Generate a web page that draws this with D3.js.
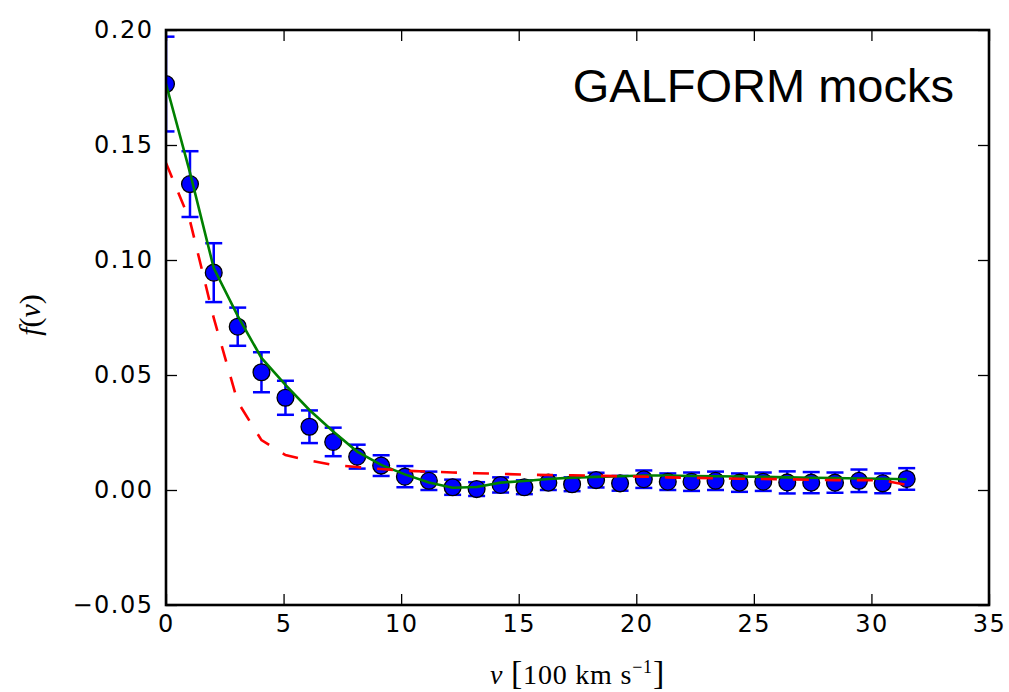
<!DOCTYPE html>
<html>
<head>
<meta charset="utf-8">
<script src="https://cdn.jsdelivr.net/npm/d3@7"></script>
<style>
  body { margin: 0; background: #fff; }
</style>
</head>
<body>
<svg width="1009" height="692"></svg>
<script>
// velocity bins, units of 100 km/s
var vBins = [0, 1.02, 2.03, 3.05, 4.06, 5.08, 6.1, 7.11, 8.13, 9.15, 10.16, 11.18,
  12.19, 13.21, 14.23, 15.24, 16.26, 17.27, 18.29, 19.31, 20.32, 21.34, 22.35,
  23.37, 24.39, 25.4, 26.42, 27.44, 28.45, 29.47, 30.48, 31.5];

// mock measurements (blue points) and their errors
var fMock = [0.1765, 0.133, 0.0945, 0.071, 0.0512, 0.0401, 0.0275, 0.0209, 0.0145,
  0.0106, 0.0058, 0.004, 0.0012, 0.0004, 0.0022, 0.0012, 0.0032, 0.0025, 0.0043,
  0.0029, 0.0047, 0.0036, 0.0036, 0.004, 0.0032, 0.0036, 0.0033, 0.0032, 0.0032,
  0.004, 0.0029, 0.0048];
var fErr = [0.0206, 0.0143, 0.0128, 0.0083, 0.0087, 0.0074, 0.0071, 0.0062, 0.0052,
  0.0045, 0.0046, 0.004, 0.0033, 0.003, 0.0033, 0.003, 0.0032, 0.003, 0.0032,
  0.0032, 0.0038, 0.0036, 0.004, 0.004, 0.004, 0.004, 0.0048, 0.0046, 0.0044,
  0.0049, 0.0043, 0.0047];

// green solid curve
var fGreen = [0.1765, 0.138, 0.0965, 0.0757, 0.0574, 0.0457, 0.0348, 0.0254, 0.0167,
  0.0109, 0.0068, 0.0033, 0.001, 0.0013, 0.0032, 0.0039, 0.0048, 0.0054, 0.0057,
  0.006, 0.0063, 0.0063, 0.0061, 0.006, 0.0059, 0.0057, 0.0055, 0.0053, 0.0052,
  0.005, 0.0049, 0.0047];

// red dashed curve
var fRed = [0.1422, 0.117, 0.0748, 0.0383, 0.0217, 0.0152, 0.0128, 0.0109, 0.01,
  0.0091, 0.0084, 0.008, 0.0076, 0.0073, 0.007, 0.0067, 0.0065, 0.0064, 0.0062,
  0.006, 0.0058, 0.0055, 0.0053, 0.0051, 0.0049, 0.0048, 0.0047, 0.0044, 0.0043,
  0.0043, 0.0042, 0.0022];

var xTicks = [0, 5, 10, 15, 20, 25, 30, 35];
var yTicks = [-0.05, 0, 0.05, 0.1, 0.15, 0.2];

var svg = d3.select("svg"),
  pLeft = 166,
  pRight = 989,
  pTop = 30,
  pBottom = 605;

var xScale = d3.scaleLinear().domain([0, 35]).range([pLeft, pRight]),
  yScale = d3.scaleLinear().domain([-0.05, 0.2]).range([pBottom, pTop]);

var pts = vBins.map(function (v, i) {
  return { v: v, f: fMock[i], e: fErr[i], g: fGreen[i], r: fRed[i] };
});

var g = svg.append("g");
svg.append("clipPath").attr("id", "plotClip")
  .append("rect")
  .attr("x", pLeft).attr("y", pTop)
  .attr("width", pRight - pLeft).attr("height", pBottom - pTop);

var plot = g.append("g").attr("clip-path", "url(#plotClip)");

// error bars
var capW = 8.5;
var eb = plot.append("g").selectAll("g")
  .data(pts)
  .enter()
  .append("g")
  .attr("stroke", "#0000ff")
  .attr("stroke-width", 2.5);
eb.append("line")
  .attr("x1", function (d) { return xScale(d.v); })
  .attr("x2", function (d) { return xScale(d.v); })
  .attr("y1", function (d) { return yScale(d.f + d.e); })
  .attr("y2", function (d) { return yScale(d.f - d.e); });
eb.append("line")
  .attr("x1", function (d) { return xScale(d.v) - capW; })
  .attr("x2", function (d) { return xScale(d.v) + capW; })
  .attr("y1", function (d) { return yScale(d.f + d.e); })
  .attr("y2", function (d) { return yScale(d.f + d.e); });
eb.append("line")
  .attr("x1", function (d) { return xScale(d.v) - capW; })
  .attr("x2", function (d) { return xScale(d.v) + capW; })
  .attr("y1", function (d) { return yScale(d.f - d.e); })
  .attr("y2", function (d) { return yScale(d.f - d.e); });

// points
plot.append("g").selectAll("circle")
  .data(pts)
  .enter()
  .append("circle")
  .attr("cx", function (d) { return xScale(d.v); })
  .attr("cy", function (d) { return yScale(d.f); })
  .attr("r", 8.4)
  .attr("fill", "#0000ff")
  .attr("stroke", "#000")
  .attr("stroke-width", 1.3);

// green line
plot.append("path")
  .datum(pts)
  .attr("fill", "none")
  .attr("stroke", "#008000")
  .attr("stroke-width", 2.6)
  .attr("d", d3.line()
    .x(function (d) { return xScale(d.v); })
    .y(function (d) { return yScale(d.g); }));

// red dashed line
plot.append("path")
  .datum(pts)
  .attr("fill", "none")
  .attr("stroke", "#ff0000")
  .attr("stroke-width", 2.6)
  .attr("stroke-dasharray", "16,16")
  .attr("d", d3.line()
    .x(function (d) { return xScale(d.v); })
    .y(function (d) { return yScale(d.r); }));

// axes: ticks pointing inward on all four sides
var tickLen = 11;
var axB = d3.axisBottom(xScale).tickValues(xTicks).tickSizeInner(-tickLen).tickSizeOuter(0).tickPadding(10);
var axT = d3.axisTop(xScale).tickValues(xTicks).tickSizeInner(-tickLen).tickSizeOuter(0).tickFormat("");
var axL = d3.axisLeft(yScale).tickValues(yTicks).tickSizeInner(-tickLen).tickSizeOuter(0).tickPadding(12.5)
  .tickFormat(function (d) { return d3.format(".2f")(d).replace("-", "\u2212"); });
var axR = d3.axisRight(yScale).tickValues(yTicks).tickSizeInner(-tickLen).tickSizeOuter(0).tickFormat("");

function styleAxis(sel) {
  sel.select(".domain").remove();
  sel.selectAll(".tick line").attr("stroke", "#000").attr("stroke-width", 1.3);
  sel.selectAll(".tick text")
    .attr("fill", "#000")
    .style("font-family", "'DejaVu Sans', sans-serif")
    .style("font-size", "24px")
    .style("letter-spacing", "1.5px");
}

g.append("g").attr("transform", "translate(0," + pBottom + ")").call(axB).call(styleAxis);
g.append("g").attr("transform", "translate(0," + pTop + ")").call(axT).call(styleAxis);
g.append("g").attr("transform", "translate(" + pLeft + ",0)").call(axL).call(styleAxis);
g.append("g").attr("transform", "translate(" + pRight + ",0)").call(axR).call(styleAxis);

// frame
g.append("rect")
  .attr("x", pLeft).attr("y", pTop)
  .attr("width", pRight - pLeft).attr("height", pBottom - pTop)
  .attr("fill", "none")
  .attr("stroke", "#000")
  .attr("stroke-width", 2.6);

// title inside axes
g.append("text")
  .attr("x", 954)
  .attr("y", 102)
  .attr("text-anchor", "end")
  .style("font-family", "'Liberation Sans', Arial, sans-serif")
  .style("font-size", "47px")
  .text("GALFORM mocks");

// x label
var xl = g.append("text")
  .attr("x", (pLeft + pRight) / 2)
  .attr("y", 684)
  .attr("text-anchor", "middle")
  .style("font-family", "'Liberation Serif', serif")
  .style("font-size", "28px")
  .style("letter-spacing", "0.8px");
xl.append("tspan").style("font-style", "italic").text("v");
xl.append("tspan").text(" ");
xl.append("tspan").style("font-size", "34px").text("[");
xl.append("tspan").text("100 km s");
xl.append("tspan").attr("dy", -11).style("font-size", "18px").text("\u22121");
xl.append("tspan").attr("dy", 11).style("font-size", "34px").text("]");

// y label
var yl = g.append("text")
  .attr("transform", "translate(40," + 315 + ")rotate(-90)")
  .attr("text-anchor", "middle")
  .style("font-family", "'Liberation Serif', serif")
  .style("font-size", "30px");
yl.append("tspan").style("font-style", "italic").text("f");
yl.append("tspan").text("(");
yl.append("tspan").style("font-style", "italic").text("v");
yl.append("tspan").text(")");
</script>
</body>
</html>
